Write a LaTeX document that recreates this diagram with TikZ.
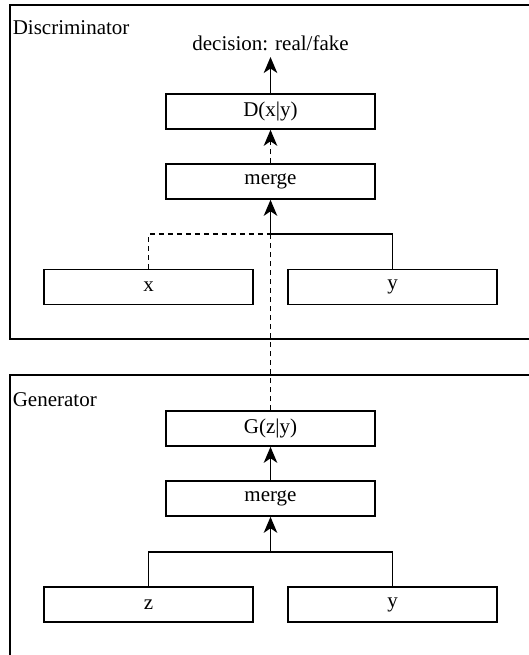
\documentclass[tikz,border=0pt]{standalone}
\usepackage{fontspec}
\setmainfont{Liberation Serif}
\usetikzlibrary{arrows.meta}
\begin{document}
\begin{tikzpicture}[x=1pt,y=-1pt,
  line width=1.6pt,
  every node/.style={font=\fontsize{21}{24}\selectfont},
  block/.style={draw, rectangle, minimum width=209pt, minimum height=35pt, inner sep=0pt},
  frame/.style={draw, line width=1.6pt},
  flow/.style={-{Stealth[length=16pt,width=13.5pt,inset=4.5pt]}},
  dashline/.style={dash pattern=on 5pt off 4pt},
  label/.style={anchor=west, inner sep=0pt}]
  \useasboundingbox (0,0) rectangle (529,655);
  \clip (0,0) rectangle (529,655);

  % outer frames
  \draw[frame] (10,5) rectangle (545,339);
  \draw[frame] (10,375) rectangle (545,680);
  \node[label] (dlab) at (12,28) {Discriminator};
  \node[label] (glab) at (12,400) {Generator};

  % discriminator
  \node (dec) at (270.5,43) {decision: real/fake};
  \node[block] (D) at (270.5,111.5) {D(x|y)};
  \node[block] (dmerge) at (270.5,181.5) {merge};
  \node[block] (x) at (148.5,287) {x};
  \node[block] (dy) at (392.5,287) {y};
  \coordinate (djoin) at (270.5,234);
  \coordinate (dtip) at (270.5,57);

  % generator
  \node[block] (G) at (270.5,428.5) {G(z|y)};
  \node[block] (gmerge) at (270.5,498.5) {merge};
  \node[block] (z) at (148.5,604.5) {z};
  \node[block] (gy) at (392.5,604.5) {y};
  \coordinate (gjoin) at (270.5,552);

  % discriminator connectors
  \draw[flow] (D.north) -- (dtip);
  \draw[flow, dashline] (dmerge.north) -- (D.south);
  \draw[dashline] (x.north) |- (djoin);
  \draw (dy.north) |- (djoin);
  \draw[flow] (djoin) -- (dmerge.south);
  \draw[dashline] (G.north) -- (djoin);

  % generator connectors
  \draw[flow] (gmerge.north) -- (G.south);
  \draw (z.north) |- (gjoin);
  \draw (gy.north) |- (gjoin);
  \draw[flow] (gjoin) -- (gmerge.south);
\end{tikzpicture}
\end{document}
